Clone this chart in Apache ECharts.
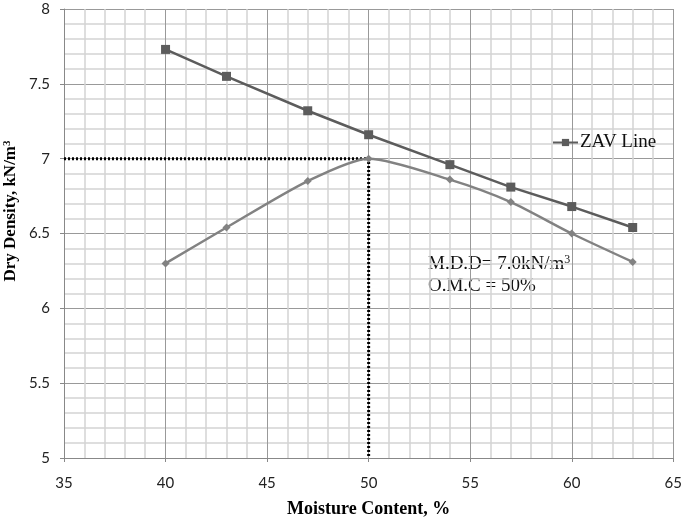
<!DOCTYPE html>
<html>
<head>
<meta charset="utf-8">
<script src="https://cdn.jsdelivr.net/npm/echarts@6/dist/echarts.min.js"></script>
<style>html,body{margin:0;padding:0;background:#fff}#c{width:685px;height:523px}</style>
</head>
<body>
<div id="c"></div>
<script>
var moisture = [40, 43, 47, 50, 54, 57, 60, 63];
var zavDensity = [7.73, 7.55, 7.32, 7.16, 6.96, 6.81, 6.68, 6.54];
var dryDensity = [6.30, 6.54, 6.85, 7.00, 6.86, 6.71, 6.50, 6.31];
var mddPath = [[35, 7.0], [50, 7.0], [50, 5.0]];

function pairs(xs, ys) { return xs.map(function (x, i) { return [x, ys[i]]; }); }

var chart = echarts.init(document.getElementById('c'), null, { renderer: 'canvas' });
var labelFont = 'Lato, "Open Sans", sans-serif';
var serif = '"Liberation Serif", "Times New Roman", serif';
chart.setOption({
  animation: false,
  backgroundColor: '#fff',
  grid: { left: 64, right: 7, top: 9, bottom: 62 },
  legend: {
    data: ['ZAV Line'],
    left: 547, top: 128,
    itemWidth: 25, itemHeight: 9,
    textStyle: { fontFamily: serif, fontSize: 19, color: '#111', padding: [0, 0, 0, -3] }
  },
  xAxis: {
    type: 'value', min: 35, max: 65, interval: 5,
    name: 'Moisture Content, %', nameLocation: 'middle', nameGap: 42,
    nameTextStyle: { fontFamily: serif, fontWeight: 'bold', fontSize: 18, color: '#000' },
    axisLine: { show: true, lineStyle: { color: '#888', width: 1 } },
    axisTick: { show: true, length: 4, lineStyle: { color: '#888' } },
    axisLabel: { fontFamily: labelFont, fontSize: 15, color: '#222', margin: 18 },
    splitLine: { show: true, lineStyle: { color: '#999', width: 1 } },
    minorTick: { show: false, splitNumber: 5 },
    minorSplitLine: { show: true, lineStyle: { color: '#d4d4d4', width: 1.5 } }
  },
  yAxis: {
    type: 'value', min: 5, max: 8, interval: 0.5,
    axisLine: { show: true, lineStyle: { color: '#888', width: 1 } },
    axisTick: { show: true, length: 4, lineStyle: { color: '#888' } },
    axisLabel: { fontFamily: labelFont, fontSize: 15, color: '#222', margin: 14 },
    splitLine: { show: true, lineStyle: { color: '#999', width: 1 } },
    minorTick: { show: false, splitNumber: 5 },
    minorSplitLine: { show: true, lineStyle: { color: '#d4d4d4', width: 1.5 } }
  },
  series: [
    {
      name: 'MDD', type: 'line', data: mddPath, symbol: 'none', silent: true,
      lineStyle: { color: '#000', width: 3, type: [2, 2] }, z: 1
    },
    {
      name: 'Compaction', type: 'line', data: pairs(moisture, dryDensity),
      smooth: 0.25, symbol: 'diamond', symbolSize: 8,
      itemStyle: { color: '#828282' }, lineStyle: { color: '#828282', width: 2.5 }, z: 3
    },
    {
      name: 'ZAV Line', type: 'line', data: pairs(moisture, zavDensity),
      symbol: 'rect', symbolSize: 9,
      itemStyle: { color: '#5c5c5c' }, lineStyle: { color: '#5c5c5c', width: 2.5 }, z: 4
    }
  ],
  graphic: [
    {
      type: 'text', x: 11, y: 211, rotation: Math.PI / 2,
      style: {
        text: 'Dry Density, kN/m{s|3}',
        font: 'bold 17px ' + serif,
        fill: '#000', align: 'center', verticalAlign: 'middle',
        rich: { s: { fontSize: 11, fontWeight: 'bold', fontFamily: serif, fill: '#000', padding: [0, 0, 8, 0] } }
      }
    },
    {
      type: 'text', left: 428, top: 253,
      style: {
        text: 'M.D.D= 7.0kN/m{s|3}\nO.M.C = 50%',
        font: '19px ' + serif,
        fill: '#111', lineHeight: 22,
        rich: { s: { fontSize: 12, fontFamily: serif, fill: '#111', padding: [0, 0, 9, 0] } }
      }
    }
  ]
});
</script>
</body>
</html>
